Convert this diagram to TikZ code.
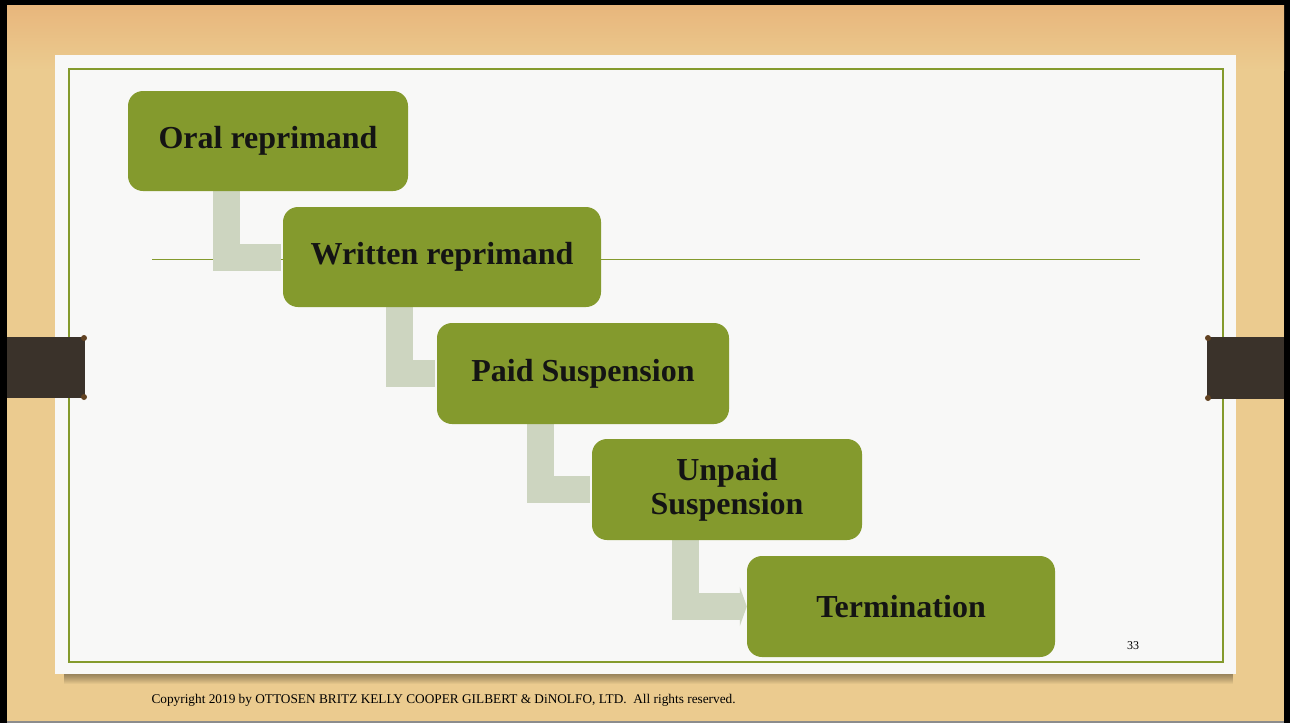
\documentclass[tikz,border=0pt]{standalone}
\usepackage{fontspec}
\setmainfont{Liberation Serif}
\usetikzlibrary{positioning,arrows.meta}
\definecolor{stepgreen}{RGB}{132,154,45}
\definecolor{linkgray}{RGB}{205,213,192}
\definecolor{woodtan}{RGB}{235,203,143}
\definecolor{woodtop}{RGB}{232,182,124}
\definecolor{tabbrown}{RGB}{58,50,42}
\definecolor{paperwhite}{RGB}{248,248,247}
\pgfdeclarelayer{back}
\pgfdeclarelayer{links}
\pgfsetlayers{back,links,main}
\tikzset{
  stepbox/.style={fill=stepgreen, rounded corners=15pt, minimum height=100pt,
    inner sep=0pt, text=black!92, align=center,
    font=\fontsize{32}{34}\selectfont\bfseries},
  stepline/.style={linkgray, line width=27pt},
  tabbar/.style={fill=tabbrown},
}

\begin{document}
\begin{tikzpicture}[x=1pt, y=-1pt]
  \useasboundingbox (0,0) rectangle (1290,723);
  % slide background
  \begin{pgfonlayer}{back}
    \fill[black] (0,0) rectangle (1290,723);
    \fill[woodtan] (7,5) rectangle (1284,721);
    \shade[top color=woodtop, bottom color=woodtan] (7,5) rectangle (1284,70);
    \fill[black!45] (7,721) rectangle (1284,723);
    \foreach \k in {1,...,10}
      \fill[black, opacity=0.04] (64,674) rectangle (1233,674+\k);
    \fill[paperwhite] (55,55) rectangle (1236,674);
    \draw[stepgreen, line width=2pt] (69,69) rectangle (1223,662);
    \draw[stepgreen, line width=1.8pt] (152,259.5) -- (1140,259.5);
    \fill[tabbar] (7,337) rectangle (85,398);
    \fill[tabbar] (1207,337) rectangle (1284,399);
    \fill[tabbrown!80!orange] (84,338) circle (3) (84,397) circle (3);
    \fill[tabbrown!80!orange] (1208,338) circle (3) (1208,398) circle (3);
  \end{pgfonlayer}

  % steps
  \node[stepbox, minimum width=280pt] (oral) at (268,141) {Oral reprimand};
  \node[stepbox, minimum width=318pt] (written) at (442,257) {Written reprimand};
  \node[stepbox, minimum width=292pt, minimum height=101pt] (paid) at (583,373.5) {Paid Suspension};
  \node[stepbox, minimum width=270pt, minimum height=101pt] (unpaid) at (727,489.5) {Unpaid\\Suspension};
  \node[stepbox, minimum width=308pt, minimum height=101pt] (term) at (901,606.5) {Termination};

  % links
  \begin{pgfonlayer}{links}
    \foreach \a/\b/\dx in {oral/written/98.5, written/paid/116.5, paid/unpaid/104}
      \draw[stepline, shorten >=2pt] ([xshift=\dx pt]\a.south west) |- (\b.west);
    \draw[stepline, -{Triangle[width=39pt, length=7pt]}]
      ([xshift=93.5pt]unpaid.south west) |- (term.west);
  \end{pgfonlayer}

  % footer
  \node[font=\fontsize{13.3}{15}\selectfont, anchor=west] (copy) at (148,700)
    {Copyright 2019 by OTTOSEN BRITZ KELLY COOPER GILBERT \& DiNOLFO, LTD.\ \ All rights reserved.};
  \node[font=\fontsize{12}{14}\selectfont] (pagenum) at (1133,646) {33};
\end{tikzpicture}
\end{document}
